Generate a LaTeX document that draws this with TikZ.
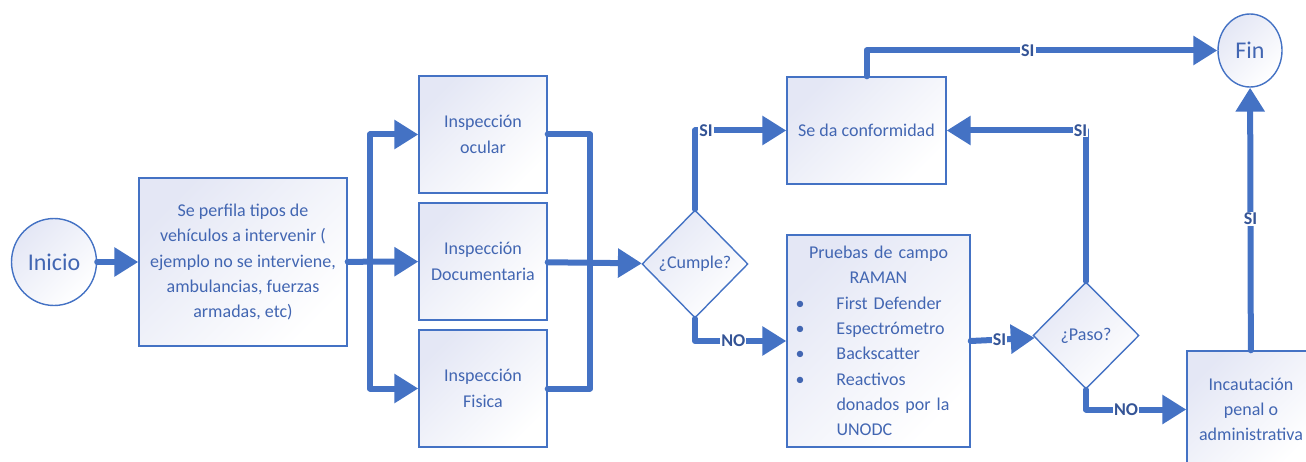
\documentclass[tikz,border=0pt]{standalone}
\usepackage{fontspec}
\setmainfont{Carlito}
\usetikzlibrary{arrows.meta,shapes.geometric}
\definecolor{flowblue}{RGB}{68,114,196}
\definecolor{textblue}{RGB}{66,102,178}
\definecolor{lblblue}{RGB}{52,84,150}
\definecolor{lav}{RGB}{228,231,245}
\newcommand{\mybul}{\makebox[41pt][l]{\textbullet}}
\tikzset{
  box/.style={draw=flowblue, line width=1.4pt, top color=lav, bottom color=white,
    shading angle=45, text=textblue, align=center, inner sep=0pt,
    font=\fontsize{18}{25.3}\selectfont},
  ovalbox/.style={box, ellipse, font=\fontsize{24}{30}\selectfont},
  decision/.style={box, diamond, aspect=1},
  link/.style={draw=flowblue, line width=6pt, line cap=round, line join=round},
  flow/.style={link, -{Triangle[length=24pt,width=28pt]}},
  lbl/.style={fill=white, text=lblblue, inner sep=1pt,
    font=\bfseries\fontsize{18}{20}\selectfont}
}
\begin{document}
\begin{tikzpicture}[x=1pt,y=-1pt]
  \clip (0,0) rectangle (1306,462);
  \node[ovalbox, minimum width=85, minimum height=87] (inicio) at (54,262) {Inicio};
  \node[box, minimum width=208, minimum height=168] (perfila) at (243,262)
    {Se perfila tipos de\\vehículos a intervenir (\\ejemplo no se interviene,\\ambulancias, fuerzas\\armadas, etc)};
  \node[box, minimum width=128, minimum height=117] (ocular) at (483,134.5) {Inspección\\ocular};
  \node[box, minimum width=128, minimum height=117] (documentaria) at (483,261.5) {Inspección\\Documentaria};
  \node[box, minimum width=128, minimum height=117] (fisica) at (483,388.5) {Inspección\\Fisica};
  \node[decision, minimum width=106, minimum height=108] (cumple) at (695,264) {¿Cumple?};
  \node[box, minimum width=159, minimum height=107] (conformidad) at (866.5,130.5) {Se da conformidad};
  \node[box, minimum width=183, minimum height=212, text width=166pt, align=left] (pruebas) at (878.5,341)
    {{\centering Pruebas de campo\\RAMAN\par}
     \mybul First Defender\\
     \mybul Espectrómetro\\
     \mybul Backscatter\\
     \mybul Reactivos\\
     \hspace*{41pt}donados por la\\
     \hspace*{41pt}UNODC};
  \node[decision, minimum width=106, minimum height=107] (paso) at (1086,335.5) {¿Paso?};
  \node[box, minimum width=128, minimum height=117] (incaut) at (1251,409.5)
    {Incautación\\penal o\\administrativa};
  \node[ovalbox, minimum width=64, minimum height=73] (fin) at (1250,50.5) {Fin};
  \coordinate (bl) at (370,262);
  \coordinate (br) at (590,262);
  \begin{scope}
    \draw[flow] (inicio) -- (perfila);
    \draw[flow] (perfila) -- (documentaria);
    \draw[flow] (bl) |- (ocular);
    \draw[flow] (bl) |- (fisica);
    \draw[link] (ocular) -| (br);
    \draw[link] (fisica) -| (br);
    \draw[flow] (documentaria) -- (cumple);
    \draw[flow] (cumple) |- node[lbl, pos=0.56] {SI} (conformidad);
    \draw[flow] (cumple) |- node[lbl, pos=0.71] {NO} (pruebas);
    \draw[flow] (pruebas.east) -- node[lbl, pos=0.45] {SI} (paso);
    \draw[flow] (paso) |- node[lbl, pos=0.52] {SI} (conformidad);
    \draw[flow] (paso) |- node[lbl, pos=0.7] {NO} (incaut);
    \draw[flow] (incaut) -- node[lbl] {SI} (fin);
    \draw[flow] (conformidad) |- node[lbl, pos=0.73] {SI} (fin);
  \end{scope}
\end{tikzpicture}
\end{document}
